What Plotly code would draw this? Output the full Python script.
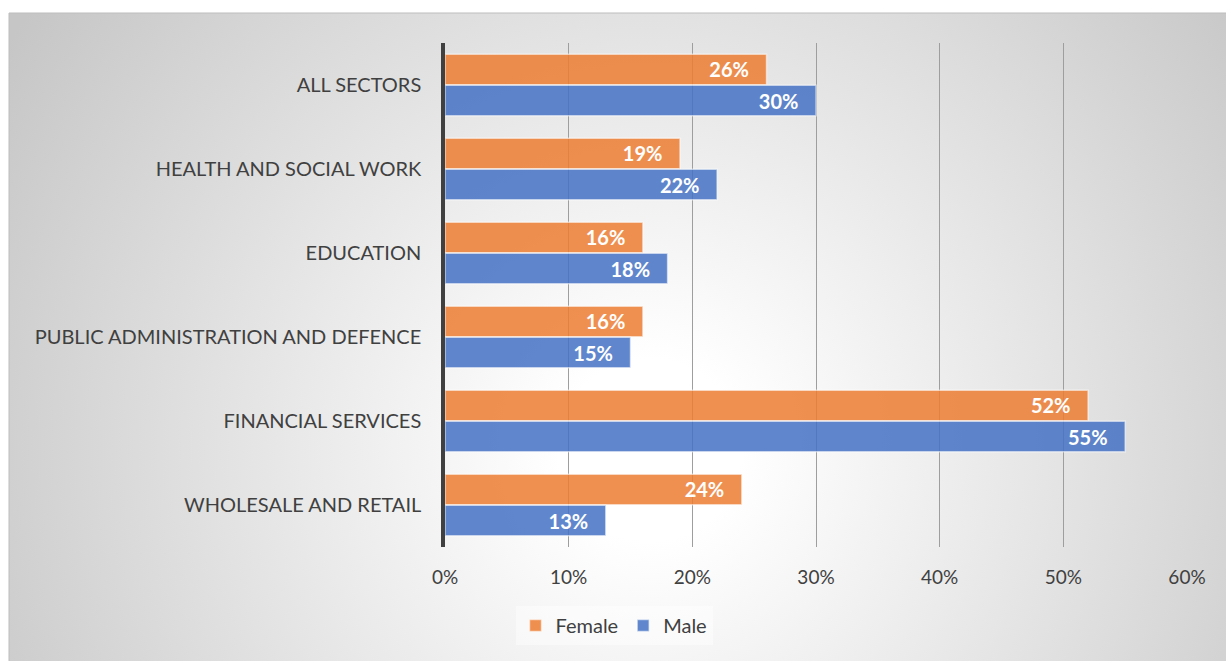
import plotly.graph_objects as go
import urllib.parse

categories = ["ALL SECTORS", "HEALTH AND SOCIAL WORK", "EDUCATION",
              "PUBLIC ADMINISTRATION AND DEFENCE", "FINANCIAL SERVICES",
              "WHOLESALE AND RETAIL"]
female = [0.26, 0.19, 0.16, 0.16, 0.52, 0.24]
male = [0.30, 0.22, 0.18, 0.15, 0.55, 0.13]
x_ticks = [0, 0.1, 0.2, 0.3, 0.4, 0.5, 0.6]

W, H = 1226, 661
L, R, T, B = 445, 39, 43, 114
pw, ph = W - L - R, H - T - B

# radial gradient background box
bx0, by0 = 9, 13
bw, bh = W - bx0, H - by0
svg = (f'<svg xmlns="http://www.w3.org/2000/svg" width="{bw}" height="{bh}" viewBox="0 0 {bw} {bh}">'
       f'<defs><radialGradient id="g" gradientUnits="userSpaceOnUse" cx="{650-bx0}" cy="{450-by0}" r="760">'
       '<stop offset="0" stop-color="#ffffff"/><stop offset="0.12" stop-color="#ffffff"/>'
       '<stop offset="1" stop-color="#c6c6c6"/></radialGradient></defs>'
       f'<rect x="0" y="0" width="{bw}" height="{bh}" fill="url(#g)"/></svg>')
src = "data:image/svg+xml;charset=utf-8," + urllib.parse.quote(svg)

font_family = "Lato, 'Open Sans', sans-serif"
pad = "\u00a0\u00a0\u00a0"

fig = go.Figure()
fig.add_trace(go.Bar(
    y=categories, x=female, name="Female", orientation="h",
    marker=dict(color="rgba(237,125,49,0.85)", line=dict(color="rgba(255,255,255,0.55)", width=1.5)),
    texttemplate="%{x:.0%}" + pad, textposition="inside", insidetextanchor="end",
    textfont=dict(color="white", size=20, family=font_family, weight="bold"),
))
fig.add_trace(go.Bar(
    y=categories, x=male, name="Male", orientation="h",
    marker=dict(color="rgba(68,114,196,0.85)", line=dict(color="rgba(255,255,255,0.55)", width=1.5)),
    texttemplate="%{x:.0%}" + pad, textposition="inside", insidetextanchor="end",
    textfont=dict(color="white", size=20, family=font_family, weight="bold"),
))

fig.update_layout(
    width=W, height=H, autosize=False,
    margin=dict(l=L, r=R, t=T, b=B),
    paper_bgcolor="white", plot_bgcolor="rgba(0,0,0,0)",
    barmode="group", bargap=0.26, bargroupgap=0.02,
    font=dict(family=font_family, size=18, color="#404040"),
    images=[dict(source=src, xref="paper", yref="paper",
                 x=(bx0 - L) / pw, y=1 + (T - by0) / ph,
                 sizex=bw / pw, sizey=bh / ph,
                 xanchor="left", yanchor="top", sizing="stretch", layer="below")],
    shapes=[dict(type="rect", xref="paper", yref="paper",
                 x0=(bx0 - L) / pw, x1=(W - L) / pw + 0.01,
                 y0=-(H - T - ph) / ph - 0.01, y1=1 + (T - by0) / ph,
                 line=dict(color="#bdbdbd", width=1), fillcolor="rgba(0,0,0,0)", layer="below")],
    legend=dict(orientation="h", x=(614 - L) / pw, xanchor="center",
                y=-(606 - T - ph) / ph, yanchor="top",
                bgcolor="rgba(255,255,255,0.45)", font=dict(size=20, color="#404040"),
                itemwidth=30, traceorder="normal"),
    showlegend=True,
)
fig.update_xaxes(range=[0, 0.6], tickvals=x_ticks, tickformat=".0%",
                 showgrid=True, gridcolor="#9e9e9e", gridwidth=1,
                 zeroline=False, showline=False, ticks="",
                 ticklabelstandoff=17, tickfont=dict(size=19, color="#404040"))
fig.update_yaxes(autorange="reversed", showline=True, linecolor="#404040", linewidth=3.5,
                 showgrid=False, ticks="", ticklabelstandoff=16,
                 tickfont=dict(size=20, color="#404040"))

fig.write_html("out.html")
